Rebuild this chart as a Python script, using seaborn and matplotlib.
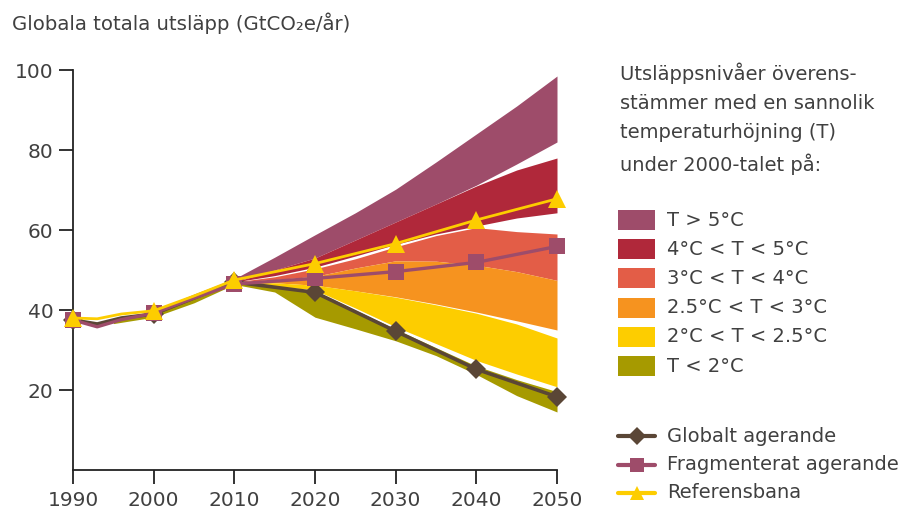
import matplotlib
matplotlib.use("Agg")
import matplotlib.pyplot as plt
from matplotlib.patches import Rectangle
from matplotlib.lines import Line2D
import pandas as pd
import seaborn as sns

# --- emission pathways (GtCO2e per year) ---
years = [1990, 1993, 1996, 2000, 2005, 2010, 2020, 2030, 2040, 2050]
globalt = [37.5, 36.5, 38.0, 39.0, 43.0, 47.0, 44.4, 34.7, 25.2, 18.3]
fragmenterat = [37.5, 35.8, 37.6, 39.2, 43.0, 46.5, 47.9, 49.6, 51.9, 55.9]
referens = [38.0, 37.8, 39.0, 39.8, 43.5, 47.5, 51.6, 56.6, 62.5, 67.8]
decades = [1990, 2000, 2010, 2020, 2030, 2040, 2050]

# --- temperature ranges: lower / upper edge of each band ---
band_years = [1995, 2000, 2005, 2010, 2015, 2020, 2025, 2030, 2035, 2040, 2045, 2050]
t_over5_hi = [37.0, 39.8, 44.0, 47.8, 53.2, 58.8, 64.3, 70.2, 77.0, 84.0, 91.0, 98.5]
t_over5_lo = [37.0, 39.5, 43.5, 47.0, 50.0, 53.0, 57.5, 62.0, 66.5, 71.2, 76.5, 82.0]
t_4_5_hi = [37.0, 39.5, 43.5, 47.0, 50.0, 53.0, 57.5, 62.0, 66.5, 71.0, 75.0, 78.0]
t_4_5_lo = [37.0, 39.5, 43.3, 47.0, 48.6, 50.7, 53.5, 56.4, 59.0, 61.0, 63.0, 64.3]
t_3_4_hi = [37.0, 39.5, 43.3, 47.0, 48.3, 50.3, 52.8, 55.8, 58.6, 60.6, 59.6, 59.0]
t_3_4_lo = [37.0, 39.5, 43.2, 47.0, 47.6, 48.4, 50.5, 52.3, 52.2, 51.2, 49.6, 47.4]
t_25_3_hi = [37.0, 39.5, 43.2, 47.0, 47.6, 48.4, 50.5, 52.3, 52.2, 51.2, 49.6, 47.4]
t_25_3_lo = [37.0, 39.4, 43.1, 47.0, 46.8, 46.2, 44.8, 43.3, 41.5, 39.5, 37.3, 35.0]
t_2_25_hi = [37.0, 39.4, 43.1, 47.0, 46.8, 46.2, 44.8, 43.2, 41.3, 39.2, 36.5, 33.0]
t_2_25_lo = [37.0, 39.3, 43.0, 47.0, 46.0, 45.0, 40.5, 35.8, 31.6, 27.4, 24.0, 20.8]
t_under2_hi = [37.6, 39.3, 43.0, 47.0, 45.8, 44.8, 40.0, 35.2, 30.6, 26.0, 22.6, 19.6]
t_under2_lo = [36.6, 38.2, 41.8, 46.4, 44.5, 38.2, 35.3, 32.3, 28.6, 23.9, 18.6, 14.5]

band_labels = ["T > 5°C", "4°C < T < 5°C", "3°C < T < 4°C",
               "2.5°C < T < 3°C", "2°C < T < 2.5°C", "T < 2°C"]
band_colors = ["#9E4C6A", "#B0283A", "#E35D47", "#F6931F", "#FDCD00", "#A69A00"]
bands = [(t_over5_lo, t_over5_hi), (t_4_5_lo, t_4_5_hi), (t_3_4_lo, t_3_4_hi),
         (t_25_3_lo, t_25_3_hi), (t_2_25_lo, t_2_25_hi), (t_under2_lo, t_under2_hi)]

line_labels = ["Globalt agerande", "Fragmenterat agerande", "Referensbana"]
line_colors = ["#5A4636", "#9E4C6A", "#FDCD00"]
line_markers = ["D", "s", "^"]
line_msizes = [10.5, 11.5, 12.5]
line_widths = [2.6, 2.4, 2.0]

sns.set_theme(style="white")
plt.rcParams["font.family"] = ["DejaVu Sans"]

TXT = "#404040"
W, H = 910, 512
fig = plt.figure(figsize=(W / 100, H / 100), dpi=100)
ax = fig.add_axes([73 / W, 42 / H, 484 / W, 400 / H])

for (lo, hi), col in zip(bands, band_colors):
    ax.fill_between(band_years, lo, hi, color=col, linewidth=0, zorder=1)

df = pd.DataFrame({
    "year": years * 3,
    "value": globalt + fragmenterat + referens,
    "serie": sum([[lab] * len(years) for lab in line_labels], []),
})
mark_idx = [years.index(y) for y in decades]
for lab, col, mk, ms, lw in zip(line_labels, line_colors, line_markers,
                                line_msizes, line_widths):
    sns.lineplot(data=df[df["serie"] == lab], x="year", y="value", ax=ax,
                 color=col, linewidth=lw, marker=mk, markersize=ms,
                 markeredgewidth=0, markevery=mark_idx, clip_on=False,
                 estimator=None, sort=False, zorder=3)

ax.set_xlim(1990, 2050)
ax.set_ylim(0, 100)
ax.set_xticks(decades)
ax.set_yticks([20, 40, 60, 80, 100])
ax.set_xlabel("")
ax.set_ylabel("")
for side in ["top", "right"]:
    ax.spines[side].set_visible(False)
for side in ["left", "bottom"]:
    ax.spines[side].set_color("#222222")
    ax.spines[side].set_linewidth(1.3)
ax.tick_params(axis="y", direction="out", length=10, width=1.3,
               color="#222222", labelcolor=TXT, labelsize=14.5, pad=4,
               left=True)
ax.tick_params(axis="x", direction="out", length=10, width=1.3,
               color="#222222", labelcolor=TXT, labelsize=14.5, pad=5,
               bottom=True)
ax.patch.set_alpha(0)

fig.text(12 / W, 1 - 23 / H, "Globala totala utsläpp (GtCO\u2082e/år)",
         fontsize=14.2, color=TXT, va="center", ha="left")

fig.text(620 / W, 1 - 62 / H,
         "Utsläppsnivåer överens-\nstämmer med en sannolik\n"
         "temperaturhöjning (T)\nunder 2000-talet på:",
         fontsize=14, color=TXT, va="top", ha="left", linespacing=1.68)

# temperature band legend
for i, (lab, col) in enumerate(zip(band_labels, band_colors)):
    yc = 220 + i * 29.2
    fig.patches.append(Rectangle((618 / W, 1 - (yc + 10) / H), 37 / W, 20 / H,
                                 transform=fig.transFigure, color=col,
                                 linewidth=0))
    fig.text(667 / W, 1 - yc / H, lab, fontsize=14, color=TXT,
             va="center", ha="left")

# pathway legend
for i, (lab, col, mk, ms) in enumerate(zip(line_labels, line_colors,
                                           line_markers, line_msizes)):
    yc = 436 + i * 28.5
    fig.add_artist(Line2D([618 / W, 655 / W], [1 - yc / H, 1 - yc / H],
                          transform=fig.transFigure, color=col, linewidth=3))
    fig.add_artist(Line2D([636.5 / W], [1 - yc / H], transform=fig.transFigure,
                          color=col, marker=mk, markersize=ms * 0.85,
                          markeredgewidth=0, linestyle="none"))
    fig.text(667 / W, 1 - yc / H, lab, fontsize=14, color=TXT,
             va="center", ha="left")

fig.savefig("out.png", dpi=100)
